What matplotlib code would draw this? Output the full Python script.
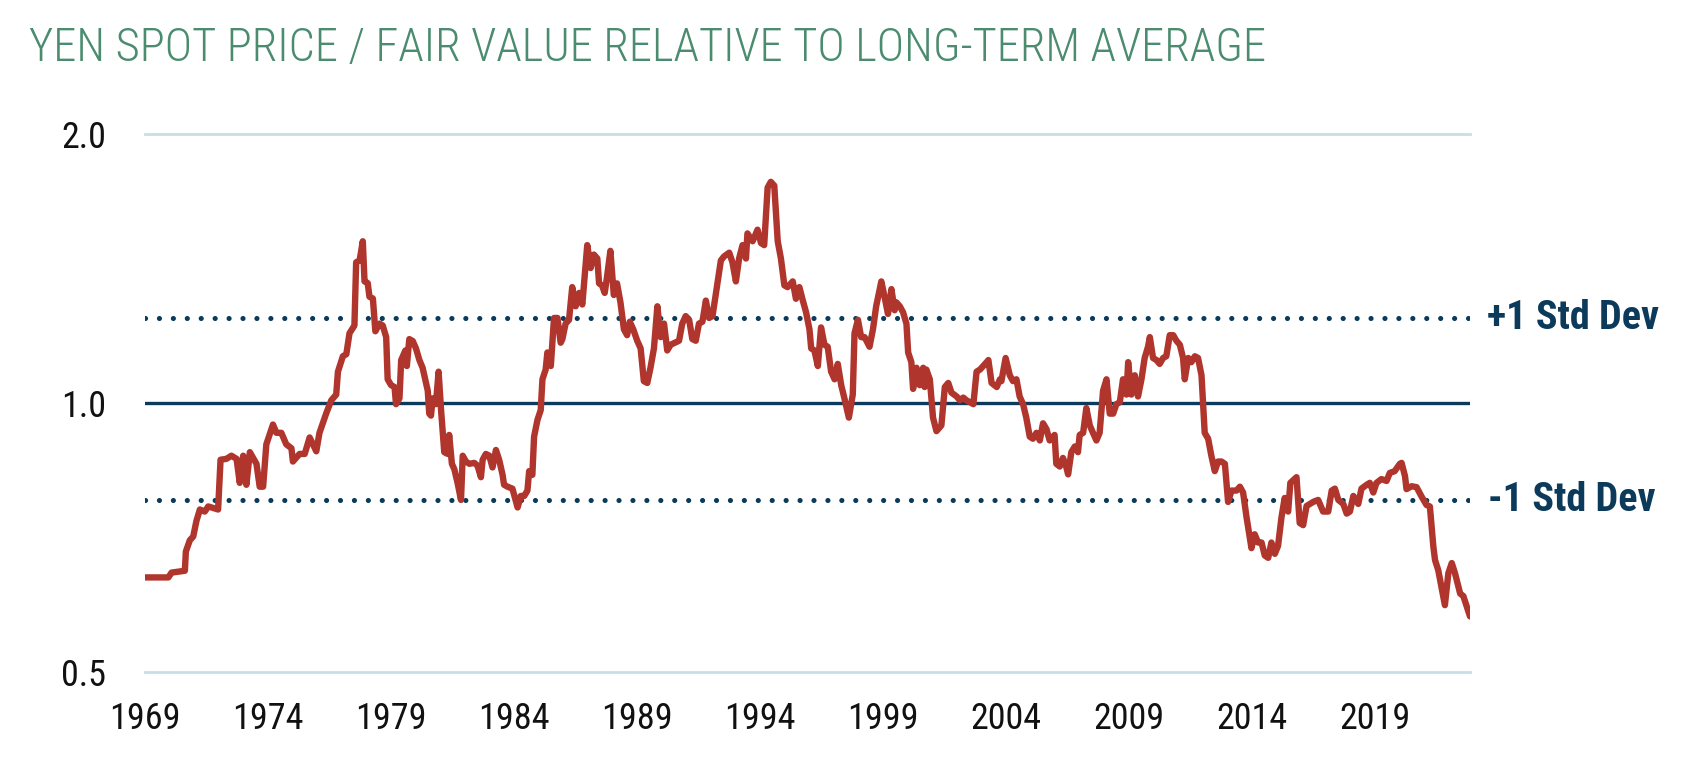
import matplotlib
matplotlib.use("Agg")
import matplotlib.pyplot as plt
from matplotlib import font_manager as fm

# ---------------- data ----------------
years = [
    1969.00, 1969.95, 1970.08, 1970.62, 1970.66, 1970.82, 1970.96, 1971.09, 1971.23, 1971.43,
    1971.57, 1971.97, 1972.07, 1972.31, 1972.51, 1972.72, 1972.85, 1972.99, 1973.12, 1973.26,
    1973.53, 1973.66, 1973.80, 1973.93, 1974.20, 1974.34, 1974.54, 1974.74, 1974.95, 1975.01,
    1975.28, 1975.49, 1975.69, 1975.96, 1976.09, 1976.36, 1976.57, 1976.77, 1976.84, 1977.04,
    1977.18, 1977.31, 1977.51, 1977.58, 1977.72, 1977.85, 1977.92, 1978.05, 1978.12, 1978.26,
    1978.36, 1978.53, 1978.66, 1978.80, 1978.86, 1979.00, 1979.14, 1979.20, 1979.34, 1979.41,
    1979.58, 1979.64, 1979.74, 1979.88, 1980.01, 1980.15, 1980.28, 1980.49, 1980.55, 1980.62,
    1980.69, 1980.82, 1980.93, 1981.03, 1981.16, 1981.30, 1981.36, 1981.47, 1981.57, 1981.70,
    1981.84, 1981.91, 1982.04, 1982.18, 1982.38, 1982.51, 1982.65, 1982.72, 1982.85, 1982.99,
    1983.12, 1983.26, 1983.39, 1983.53, 1983.59, 1983.73, 1983.93, 1984.14, 1984.27, 1984.41,
    1984.54, 1984.61, 1984.74, 1984.81, 1984.95, 1985.08, 1985.15, 1985.28, 1985.35, 1985.49,
    1985.62, 1985.76, 1985.89, 1985.96, 1986.09, 1986.23, 1986.36, 1986.50, 1986.64, 1986.77,
    1986.97, 1987.11, 1987.24, 1987.38, 1987.45,
    1987.57, 1987.68, 1987.78, 1987.91, 1988.05, 1988.18, 1988.32, 1988.46, 1988.59, 1988.70,
    1988.84, 1989.00, 1989.14, 1989.27, 1989.41, 1989.54, 1989.68, 1989.82, 1989.95, 1990.09,
    1990.22, 1990.36, 1990.70, 1990.83, 1990.97, 1991.11, 1991.24, 1991.38, 1991.51, 1991.65,
    1991.79, 1991.92, 1992.06, 1992.19, 1992.40, 1992.53, 1992.74, 1992.87, 1993.01, 1993.14,
    1993.28, 1993.42, 1993.48, 1993.69, 1993.89, 1994.03, 1994.16, 1994.30, 1994.43, 1994.57,
    1994.71, 1994.84, 1994.98, 1995.11, 1995.32, 1995.45, 1995.59, 1995.73, 1995.86, 1996.00,
    1996.07, 1996.20, 1996.34, 1996.47, 1996.61, 1996.74, 1996.88, 1997.02, 1997.15, 1997.29,
    1997.42, 1997.60, 1997.76, 1997.83, 1997.97, 1998.10, 1998.24, 1998.44, 1998.58, 1998.71,
    1998.92, 1999.05, 1999.19, 1999.33, 1999.46, 1999.53, 1999.67, 1999.80, 1999.94, 2000.01,
    2000.14, 2000.21, 2000.35, 2000.48, 2000.62, 2000.68, 2000.75, 2000.89, 2001.02, 2001.16,
    2001.36, 2001.50, 2001.64, 2001.77, 2001.98, 2002.11, 2002.25, 2002.38, 2002.52, 2002.66,
    2002.79, 2002.93, 2003.06, 2003.20, 2003.27, 2003.40, 2003.61, 2003.74,
    2003.80, 2003.97, 2004.14, 2004.27, 2004.41, 2004.54, 2004.68, 2004.81, 2004.95, 2005.08,
    2005.22, 2005.36, 2005.49, 2005.63, 2005.76, 2005.96, 2006.03, 2006.17, 2006.30, 2006.44,
    2006.51, 2006.64, 2006.78, 2006.91, 2006.98, 2007.12, 2007.25, 2007.39, 2007.52, 2007.66,
    2007.79, 2007.93, 2008.07, 2008.20, 2008.34, 2008.47, 2008.61, 2008.74, 2008.88, 2008.95,
    2009.08, 2009.22, 2009.35, 2009.49, 2009.62, 2009.76, 2009.83, 2009.96, 2010.10, 2010.23,
    2010.37, 2010.50, 2010.64, 2010.78, 2010.91, 2011.05, 2011.18, 2011.25, 2011.39, 2011.52,
    2011.66, 2011.79, 2011.93, 2012.06, 2012.20, 2012.33, 2012.47, 2012.60, 2012.74, 2012.88,
    2013.01, 2013.15, 2013.35, 2013.49, 2013.62, 2013.76, 2013.96, 2014.09, 2014.23, 2014.37,
    2014.50, 2014.64, 2014.77, 2014.91, 2015.04, 2015.18, 2015.31, 2015.45, 2015.54, 2015.79,
    2015.92, 2016.06, 2016.20, 2016.47, 2016.67, 2016.87, 2017.08, 2017.22, 2017.35, 2017.49,
    2017.69, 2017.83, 2017.96, 2018.10, 2018.30, 2018.43, 2018.64, 2018.77, 2018.91, 2019.04,
    2019.24, 2019.45, 2019.58, 2019.78, 2019.99,
    2020.06, 2020.20, 2020.26, 2020.47, 2020.67, 2020.87, 2021.07, 2021.21, 2021.35,
    2021.42, 2021.55, 2021.82, 2021.96, 2022.10, 2022.23, 2022.44, 2022.57, 2022.71, 2022.84,
]

ratio = [
    0.638, 0.638, 0.646, 0.649, 0.682, 0.702, 0.709, 0.738, 0.760, 0.756,
    0.766, 0.760, 0.864, 0.866, 0.873, 0.866, 0.814, 0.873, 0.810, 0.881,
    0.855, 0.806, 0.806, 0.899, 0.946, 0.926, 0.926, 0.899, 0.890, 0.860,
    0.877, 0.877, 0.915, 0.883, 0.926, 0.973, 1.007, 1.022, 1.084, 1.128,
    1.134, 1.197, 1.221, 1.437, 1.444, 1.517, 1.368, 1.362, 1.315, 1.309,
    1.203, 1.227, 1.221, 1.185, 1.063, 1.047, 1.042, 0.997, 1.012, 1.117,
    1.145, 1.100, 1.179, 1.173, 1.151, 1.117, 1.095, 1.032, 0.973, 0.968,
    1.012, 0.997, 1.084, 0.982, 0.881, 0.877, 0.921, 0.855, 0.843, 0.814,
    0.779, 0.873, 0.860, 0.855, 0.857, 0.851, 0.826, 0.864, 0.877, 0.873,
    0.847, 0.886, 0.864, 0.831, 0.810, 0.806, 0.802, 0.764, 0.787, 0.787,
    0.798, 0.839, 0.831, 0.917, 0.958, 0.982, 1.063, 1.090, 1.139, 1.100,
    1.245, 1.245, 1.168, 1.179, 1.227, 1.239, 1.348, 1.283, 1.328, 1.289,
    1.502, 1.416, 1.466, 1.451, 1.361,
    1.354, 1.328, 1.388, 1.480, 1.321, 1.361, 1.296, 1.209, 1.191, 1.233,
    1.209, 1.174, 1.151, 1.058, 1.053, 1.095, 1.151, 1.283, 1.185, 1.227,
    1.145, 1.162, 1.174, 1.227, 1.251, 1.239, 1.179, 1.174, 1.227, 1.233,
    1.302, 1.245, 1.251, 1.321, 1.444, 1.459, 1.473, 1.437, 1.368, 1.451,
    1.502, 1.451, 1.548, 1.517, 1.563, 1.510, 1.502, 1.742, 1.768, 1.751,
    1.517, 1.451, 1.354, 1.348, 1.368, 1.308, 1.348, 1.302, 1.264, 1.209,
    1.151, 1.145, 1.100, 1.215, 1.162, 1.156, 1.084, 1.063, 1.106, 1.047,
    1.012, 0.963, 1.022, 1.197, 1.239, 1.185, 1.185, 1.156, 1.209, 1.283,
    1.368, 1.315, 1.258, 1.341, 1.270, 1.296, 1.283, 1.264, 1.227, 1.139,
    1.111, 1.037, 1.095, 1.047, 1.095, 1.042, 1.090, 1.063, 0.963, 0.930,
    0.944, 1.042, 1.053, 1.027, 1.017, 1.007, 1.014, 1.007, 1.002, 0.997,
    1.084, 1.090, 1.100, 1.111, 1.117, 1.053, 1.042, 1.063,
    1.058, 1.123, 1.074, 1.058, 1.063, 1.017, 0.997, 0.963, 0.917, 0.912,
    0.926, 0.908, 0.949, 0.935, 0.908, 0.921, 0.855, 0.849, 0.868, 0.847,
    0.832, 0.881, 0.894, 0.881, 0.921, 0.926, 0.987, 0.944, 0.926, 0.908,
    0.926, 1.032, 1.063, 0.973, 0.973, 0.997, 1.002, 1.063, 1.022, 1.111,
    1.022, 1.074, 1.017, 1.063, 1.123, 1.157, 1.185, 1.123, 1.117, 1.106,
    1.123, 1.128, 1.191, 1.191, 1.174, 1.162, 1.123, 1.063, 1.123, 1.111,
    1.128, 1.123, 1.074, 0.926, 0.912, 0.873, 0.839, 0.860, 0.860, 0.855,
    0.775, 0.798, 0.798, 0.806, 0.794, 0.745, 0.688, 0.713, 0.698, 0.698,
    0.675, 0.671, 0.698, 0.678, 0.692, 0.745, 0.783, 0.756, 0.814, 0.826,
    0.734, 0.730, 0.767, 0.775, 0.779, 0.756, 0.756, 0.798, 0.802, 0.779,
    0.771, 0.752, 0.756, 0.787, 0.771, 0.802, 0.810, 0.814, 0.794, 0.814,
    0.822, 0.818, 0.835, 0.839, 0.855,
    0.857, 0.828, 0.801, 0.807, 0.805, 0.786, 0.769, 0.766, 0.691,
    0.667, 0.650, 0.594, 0.645, 0.662, 0.645, 0.612, 0.608, 0.592, 0.577,
]

tick_years = [1969, 1974, 1979, 1984, 1989, 1994, 1999, 2004, 2009, 2014, 2019]
tick_labels = [str(y) for y in tick_years]
y_ticks = [0.5, 1.0, 2.0]
y_tick_labels = ["0.5", "1.0", "2.0"]
mean_level = 1.0
plus_1sd = 1.245
minus_1sd = 0.778
title = "YEN SPOT PRICE / FAIR VALUE RELATIVE TO LONG-TERM AVERAGE"

# ---------------- fonts ----------------
names = {f.name for f in fm.fontManager.ttflist}
cond_family, cond_stretch = "Roboto", "normal"
found = False
for cand in ["Roboto Condensed", "Liberation Sans Narrow", "Noto Sans Condensed",
             "Open Sans Condensed", "DejaVu Sans Condensed"]:
    if cand in names:
        cond_family, cond_stretch, found = cand, "normal", True
        break
if not found:
    for base in ["Roboto", "Noto Sans", "Open Sans", "DejaVu Sans"]:
        if any(f.name == base and f.stretch in ("condensed", "semi-condensed")
               for f in fm.fontManager.ttflist):
            cond_family, cond_stretch, found = base, "condensed", True
            break

plt.rcParams["font.family"] = [cond_family, "DejaVu Sans"]
plt.rcParams["font.stretch"] = cond_stretch

# ---------------- colours ----------------
red = "#b0352c"
navy = "#0b3a5a"
grid_blue = "#c9dde9"
green = "#4b8c70"

W, H = 1688, 777
fig = plt.figure(figsize=(W / 100, H / 100), dpi=100)
ax = fig.add_axes([145 / W, 105 / H, 1325 / W, 538 / H])

ax.set_yscale("log", base=2)
ax.set_ylim(0.5, 2.0)
ax.set_xlim(years[0], years[-1])

for s in ax.spines.values():
    s.set_visible(False)

# light grid lines at 0.5 and 2.0
for v in (0.5, 2.0):
    ax.axhline(v, color=grid_blue, lw=2.0, zorder=1, clip_on=False)
# mean line
ax.axhline(mean_level, color=navy, lw=2.4, zorder=2)
# +/- 1 std dev dotted lines
for v in (plus_1sd, minus_1sd):
    ax.axhline(v, color=navy, lw=3.7, linestyle=(0, (0.01, 2.7)),
               dash_capstyle="round", zorder=2)

ax.plot(years, ratio, color=red, lw=4.6, solid_joinstyle="round",
        solid_capstyle="round", zorder=3)

ax.set_yticks(y_ticks)
ax.set_yticklabels(y_tick_labels)
ax.yaxis.set_minor_locator(matplotlib.ticker.NullLocator())
ax.set_xticks(tick_years)
ax.set_xticklabels(tick_labels)
ax.tick_params(axis="both", length=0, labelsize=26, colors="#111111")
ax.tick_params(axis="y", pad=28)
ax.tick_params(axis="x", pad=21)

trans = ax.get_yaxis_transform()
ax.text(1.0125, plus_1sd, "+1 Std Dev", transform=trans, ha="left", va="center",
        fontsize=29, fontweight="bold", color=navy)
ax.text(1.0135, minus_1sd, "-1 Std Dev", transform=trans, ha="left", va="center",
        fontsize=29, fontweight="bold", color=navy)

fig.text(29 / W, 1 - 61 / H, title, ha="left", va="baseline",
         fontsize=33.5, fontweight="light", color=green)

fig.savefig("out.png", dpi=100)
